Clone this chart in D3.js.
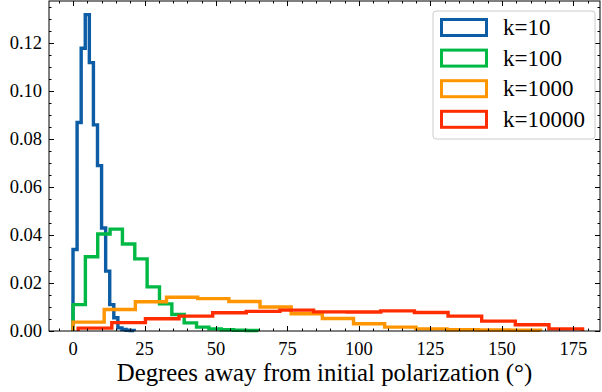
<!DOCTYPE html>
<html>
<head>
<meta charset="utf-8">
<script src="https://cdn.jsdelivr.net/npm/d3@7"></script>
</head>
<body style="margin:0">
<script>
// Normalised histograms (density) of angular deviation for four k values.
const seriesNames = ["k=10", "k=100", "k=1000", "k=10000"];
const seriesColors = ["#0C5DA5", "#00B945", "#FF9500", "#FF2C00"];

// Bin range [lo, hi] of each histogram (15 equal-width bins each).
const binRanges = [
  [0, 21.4],
  [0, 64.8],
  [0, 163.5],
  [1.8, 178.2]
];

const densK10 = [0.034, 0.087, 0.118, 0.132, 0.112, 0.086, 0.069, 0.043, 0.025, 0.011, 0.0055, 0.0013, 0.0006, 0.0003, 0.0002];
const densK100 = [0.011, 0.031, 0.0405, 0.0425, 0.0363, 0.0301, 0.0184, 0.0113, 0.0069, 0.0034, 0.0016, 0.0009, 0.0005, 0.0003, 0.0002];
const densK1000 = [0.0037, 0.009, 0.0122, 0.0141, 0.0135, 0.0123, 0.0100, 0.0072, 0.0052, 0.0030, 0.0016, 0.0009, 0.0005, 0.0004, 0.0003];
const densK10000 = [0.0012, 0.0035, 0.0051, 0.0062, 0.0076, 0.0082, 0.0087, 0.0080, 0.0079, 0.0084, 0.0077, 0.0062, 0.0041, 0.0026, 0.0009];
const seriesValues = [densK10, densK100, densK1000, densK10000];

const xTicks = [0, 25, 50, 75, 100, 125, 150, 175];
const yTicks = [0, 0.02, 0.04, 0.06, 0.08, 0.10, 0.12];
const xLabel = "Degrees away from initial polarization (°)";

const FONT = '"Liberation Serif"';

const W = 602, H = 392;
const margin = { left: 49, right: 2, top: 1, bottom: 61 };

const svg = d3.select("body").append("svg")
  .attr("width", W).attr("height", H);

const x = d3.scaleLinear().domain([-8.4, 184.3]).range([margin.left, W - margin.right]);
const y = d3.scaleLinear().domain([0, 0.1377]).range([H - margin.bottom, margin.top]);

const plot = svg.append("g");

// histogram step outlines
const line = d3.line().x(d => x(d[0])).y(d => y(d[1]));
seriesValues.forEach((vals, i) => {
  const [lo, hi] = binRanges[i];
  const n = vals.length;
  const edges = d3.range(n + 1).map(j => lo + (hi - lo) * j / n);
  const pts = [[edges[0], 0]];
  vals.forEach((v, j) => { pts.push([edges[j], v]); pts.push([edges[j + 1], v]); });
  pts.push([edges[n], 0]);
  plot.append("path")
    .attr("d", line(pts))
    .attr("fill", "none")
    .attr("stroke", seriesColors[i])
    .attr("stroke-width", 3.4)
    .attr("stroke-linejoin", "miter");
});

// axes box
const x0 = margin.left, x1 = W - margin.right, y0 = H - margin.bottom, y1 = margin.top;
svg.append("rect")
  .attr("x", x0).attr("y", y1).attr("width", x1 - x0).attr("height", y0 - y1)
  .attr("fill", "none").attr("stroke", "#000").attr("stroke-width", 1);

// ticks pointing inwards on all four sides
const majLen = 5, minLen = 2.5;
const xMinor = d3.range(-5, 185, 5).filter(v => !xTicks.includes(v));
const yMinor = d3.range(0.005, 0.1376, 0.005).filter(v => !yTicks.some(t => Math.abs(t - v) < 1e-9));

function xTickMarks(vals, len) {
  vals.forEach(v => {
    const px = Math.round(x(v)) + 0.5;
    svg.append("line").attr("x1", px).attr("x2", px).attr("y1", y0).attr("y2", y0 - len).attr("stroke", "#000");
    svg.append("line").attr("x1", px).attr("x2", px).attr("y1", y1).attr("y2", y1 + len).attr("stroke", "#000");
  });
}
function yTickMarks(vals, len) {
  vals.forEach(v => {
    const py = Math.round(y(v)) + 0.5;
    svg.append("line").attr("y1", py).attr("y2", py).attr("x1", x0).attr("x2", x0 + len).attr("stroke", "#000");
    svg.append("line").attr("y1", py).attr("y2", py).attr("x1", x1).attr("x2", x1 - len).attr("stroke", "#000");
  });
}
xTickMarks(xTicks, majLen);
xTickMarks(xMinor, minLen);
yTickMarks(yTicks, majLen);
yTickMarks(yMinor, minLen);

// tick labels
svg.selectAll(".xt").data(xTicks).enter().append("text")
  .style("font-family", FONT)
  .attr("x", d => x(d)).attr("y", y0 + 24)
  .attr("text-anchor", "middle").attr("font-size", 18.5)
  .text(d => d);
svg.selectAll(".yt").data(yTicks).enter().append("text")
  .style("font-family", FONT)
  .attr("x", x0 - 7).attr("y", d => y(d) + 6)
  .attr("text-anchor", "end").attr("font-size", 18.5)
  .text(d => d.toFixed(2));

svg.append("text")
  .style("font-family", FONT)
  .attr("x", (x0 + x1) / 2).attr("y", H - 11)
  .attr("text-anchor", "middle").attr("font-size", 24.8)
  .text(xLabel);

// legend
const lg = svg.append("g").attr("transform", "translate(433,11)");
lg.append("rect").attr("width", 162).attr("height", 128).attr("rx", 3)
  .attr("fill", "#fff").attr("fill-opacity", 0.8)
  .attr("stroke", "#ccc").attr("stroke-width", 1);
seriesNames.forEach((name, i) => {
  const cy = 16 + i * 30.6;
  lg.append("rect").attr("x", 8.5).attr("y", cy - 7.5).attr("width", 45).attr("height", 16)
    .attr("fill", "none").attr("stroke", seriesColors[i]).attr("stroke-width", 3);
  lg.append("text").style("font-family", FONT)
    .attr("x", 70).attr("y", cy + 8).attr("font-size", 23).text(name);
});
</script>
</body>
</html>
